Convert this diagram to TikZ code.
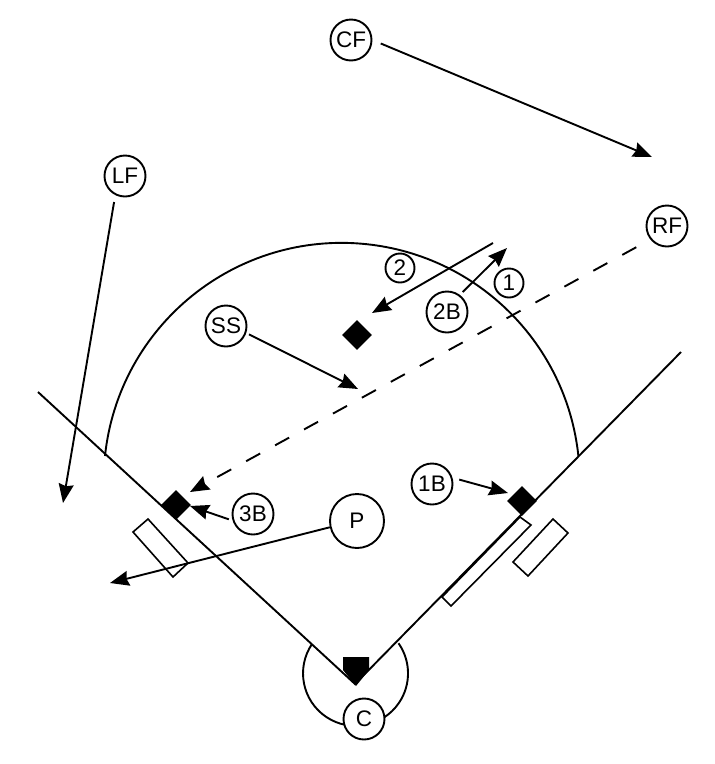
\documentclass[tikz,border=0pt]{standalone}
\usepackage{fontspec}
\setmainfont{Liberation Sans}
\usetikzlibrary{arrows.meta,shapes.geometric}
\tikzset{
  ink/.style={line width=1.9pt,black},
  big/.style={ink,circle,draw,fill=white,inner sep=0pt,minimum size=41pt,font=\fontsize{22.5}{22.5}\selectfont},
  pitcher/.style={big,minimum size=54pt},
  small/.style={ink,circle,draw,fill=white,inner sep=0pt,minimum size=29pt,font=\fontsize{22.5}{22.5}\selectfont},
  basemark/.style={diamond,aspect=1,fill=black,inner sep=0pt,minimum size=30pt},
  mover/.style={ink,-{Stealth[length=19pt,width=15pt,inset=2pt]}},
  bag/.style={ink,line width=1.6pt,line join=miter}
}
\begin{document}
\begin{tikzpicture}[x=1pt,y=-1pt]
\useasboundingbox (0,0) rectangle (715,764);
% field
\coordinate (foulL) at (38,392);
\coordinate (foulR) at (681,352);
\coordinate (apex) at (355,684);
\draw[ink,line join=miter] (foulL) -- (apex) -- (foulR);
\coordinate (arcL) at (105,456);
\draw[ink] (arcL) arc[start angle=186,end angle=354,radius=238];
\coordinate (catchL) at (312,644);
\draw[ink] (catchL) arc[start angle=214,end angle=-35,radius=52.5];
% coaches' boxes and on-deck
\draw[bag] (148,519) -- (133,532) -- (173,577) -- (188,563) -- cycle;
\draw[bag] (520,517) -- (531,525) -- (451,606) -- (442,597) -- cycle;
\draw[bag] (553,519) -- (568,533) -- (528,576) -- (513,562) -- cycle;
% bases
\node[basemark] (second) at (357,335) {};
\node[basemark] (third) at (176,505) {};
\node[basemark] (first) at (522,501) {};
\fill (343,657) -- (369,657) -- (369,670) -- (356,686) -- (343,670) -- cycle;
% players
\node[big] (CF) at (351,40) {CF};
\node[big] (LF) at (125,176) {LF};
\node[big] (RF) at (667,226) {RF};
\node[big] (SS) at (226,326) {SS};
\node[big] (2B) at (447,312) {2B};
\node[big] (3B) at (253,514) {3B};
\node[big] (1B) at (432,484) {1B};
\node[big] (C) at (364,719) {C};
\node[pitcher] (P) at (357,521) {P};
\node[small] (n1) at (509,283) {1};
\node[small] (n2) at (400,268) {2};
% arrow ends
\coordinate (tCF) at (652,157);
\coordinate (tLF) at (63,503);
\coordinate (tRF) at (190,492);
\coordinate (tSS) at (358,389);
\coordinate (t2B) at (507,248);
\coordinate (t3B) at (190,506);
\coordinate (t1B) at (508,493);
\coordinate (tP) at (110,583);
\coordinate (s2) at (493,243);
\coordinate (t2) at (372,313);
% arrows
\draw[mover,shorten <=9pt] (CF.east) -- (tCF);
\draw[mover,shorten <=7pt] (LF.-117) -- (tLF);
\draw[mover,dash pattern=on 16pt off 17pt,shorten <=16pt] (RF.219) -- (tRF);
\draw[mover,shorten <=3pt] (SS.-19) -- (tSS);
\draw[mover,shorten <=4pt] (2B.53) -- (t2B);
\draw[mover,shorten <=4pt] (3B.198) -- (t3B);
\draw[mover,shorten <=7pt] (1B.17) -- (t1B);
\draw[mover] (P.193) -- (tP);
\draw[mover] (s2) -- (t2);
\end{tikzpicture}
\end{document}
